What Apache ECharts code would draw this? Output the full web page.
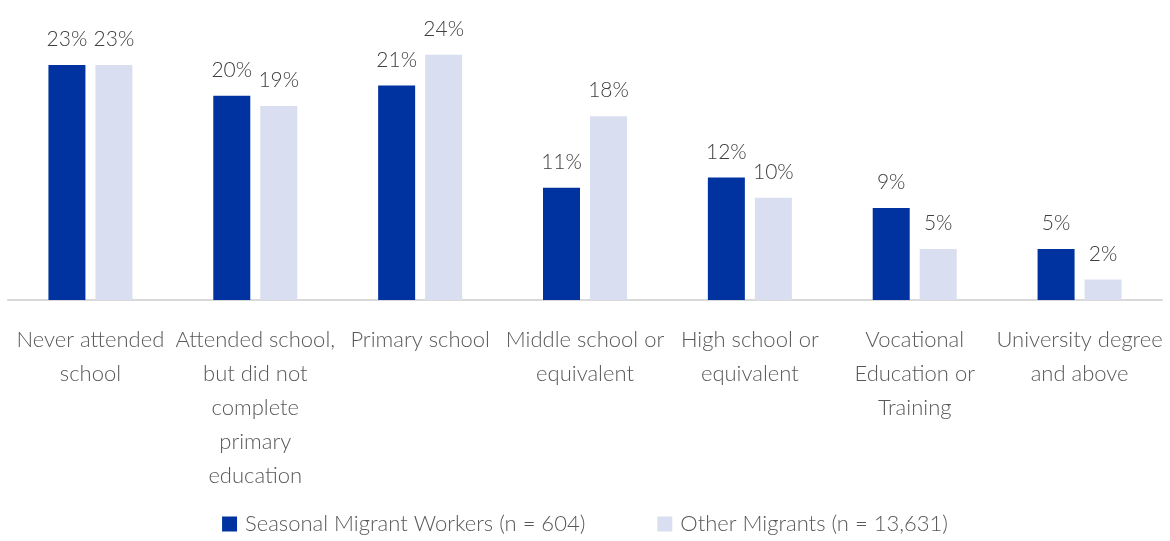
<!DOCTYPE html>
<html>
<head>
<meta charset="utf-8">
<script src="https://cdn.jsdelivr.net/npm/echarts@6/dist/echarts.min.js"></script>
<style>
  html, body { margin: 0; padding: 0; background: #ffffff; }
  #chart { width: 1170px; height: 541px; }
</style>
</head>
<body>
<div id="chart"></div>
<script>
// Education level categories (line breaks as set in the axis labels)
const categories = [
  'Never attended\nschool',
  'Attended school,\nbut did not\ncomplete\nprimary\neducation',
  'Primary school',
  'Middle school or\nequivalent',
  'High school or\nequivalent',
  'Vocational\nEducation or\nTraining',
  'University degree\nand above'
];

const seriesNames = ['Seasonal Migrant Workers (n = 604)', 'Other Migrants (n = 13,631)'];

// Share of respondents, percent
const seasonalValues = [23, 20, 21, 11, 12, 9, 5];
const otherValues = [23, 19, 24, 18, 10, 5, 2];

const FONT = 'Lato, "Open Sans", sans-serif';

const chart = echarts.init(document.getElementById('chart'), null, { renderer: 'canvas' });

const valueLabel = {
  show: true,
  position: 'top',
  distance: 15,
  formatter: p => p.value + '%',
  fontFamily: FONT,
  fontSize: 21,
  fontWeight: 300,
  color: '#404040'
};

chart.setOption({
  animation: false,
  backgroundColor: '#ffffff',
  textStyle: { fontFamily: FONT },
  grid: { left: 8, right: 8, top: 14, bottom: 241, containLabel: false },
  legend: {
    bottom: 1,
    left: 'center',
    itemWidth: 15,
    itemHeight: 15,
    itemGap: 72,
    icon: 'rect',
    textStyle: {
      fontFamily: FONT, fontSize: 22, fontWeight: 300, color: '#595959',
      padding: [0, 0, 0, 3]
    },
    data: seriesNames
  },
  xAxis: {
    type: 'category',
    data: categories,
    axisLine: { show: true, lineStyle: { color: '#d9d9d9', width: 2 } },
    axisTick: { show: false },
    axisLabel: {
      interval: 0,
      margin: 30,
      fontFamily: FONT,
      fontSize: 22,
      fontWeight: 300,
      lineHeight: 34,
      color: '#595959',
      align: 'center',
      verticalAlign: 'top',
      padding: [-7, 0, 0, 0]
    }
  },
  yAxis: {
    type: 'value',
    min: 0,
    max: 28,
    show: false,
    splitLine: { show: false }
  },
  series: [
    {
      name: seriesNames[0],
      type: 'bar',
      data: seasonalValues,
      barWidth: 37,
      barGap: '27%',
      itemStyle: { color: '#0033A0' },
      label: valueLabel
    },
    {
      name: seriesNames[1],
      type: 'bar',
      data: otherValues,
      barWidth: 37,
      itemStyle: { color: '#D9DFF0' },
      label: valueLabel
    }
  ]
});
</script>
</body>
</html>
